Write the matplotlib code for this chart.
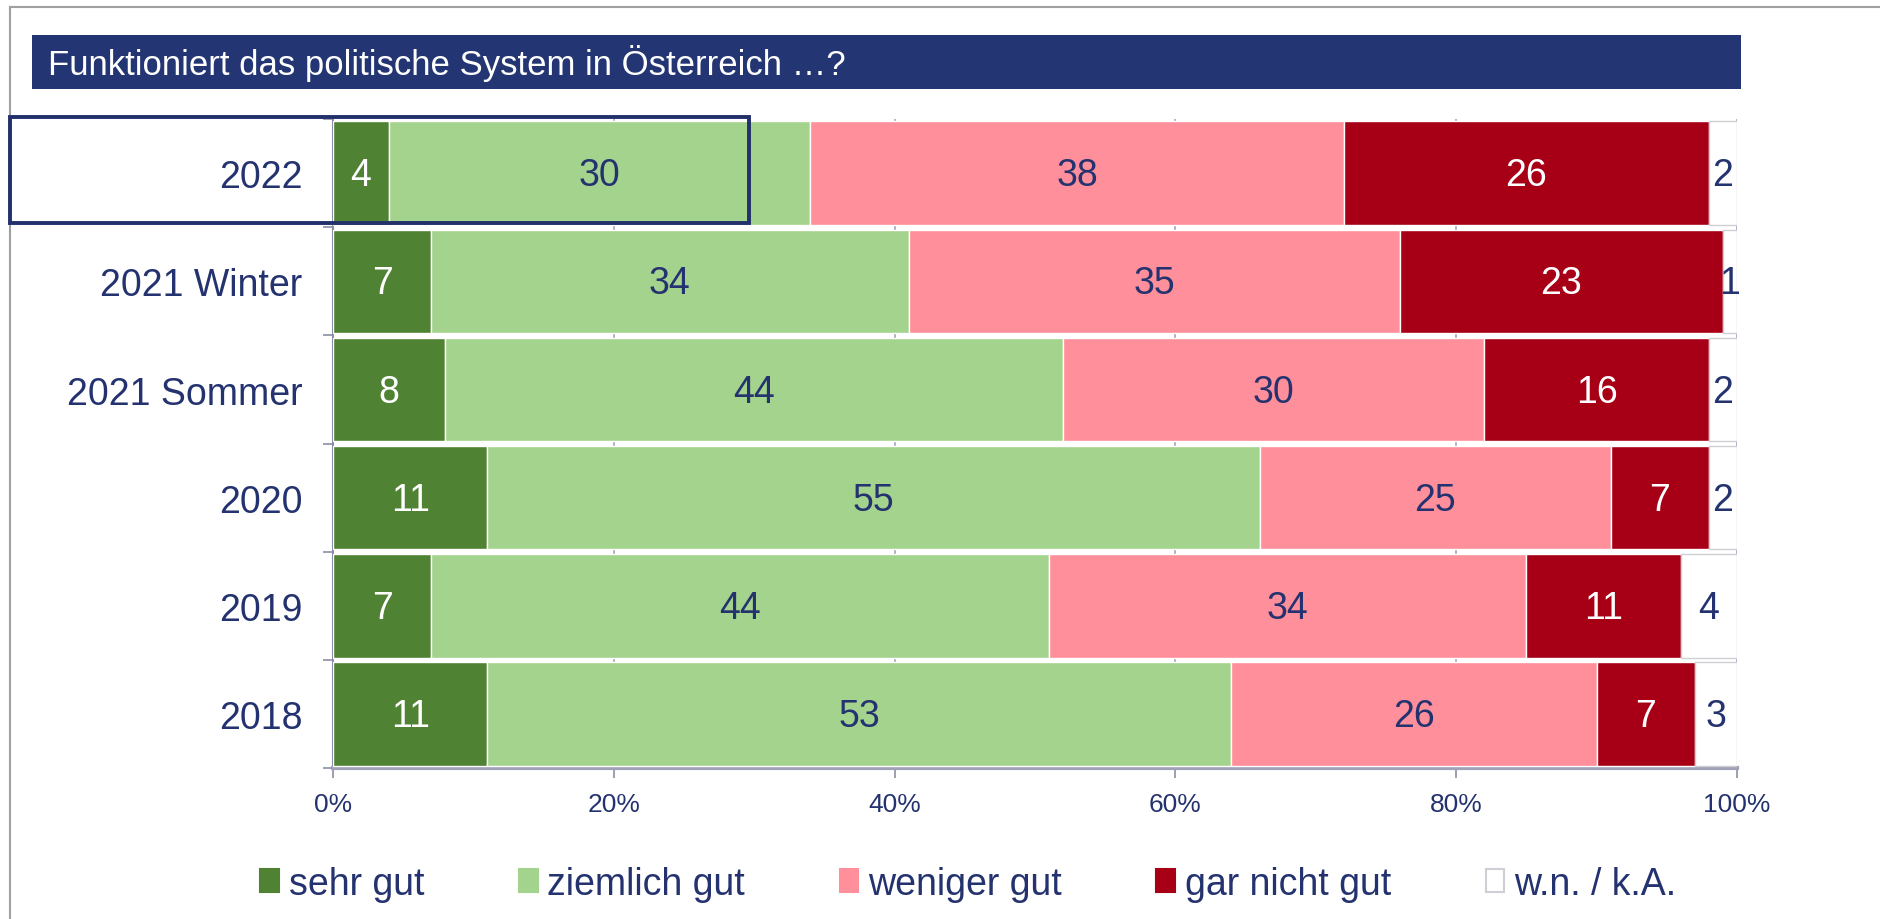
import numpy as np
import matplotlib
matplotlib.use("Agg")
import matplotlib.pyplot as plt
from matplotlib.patches import Rectangle, Patch
from matplotlib.lines import Line2D

plt.rcParams['font.family'] = ['Liberation Sans', 'DejaVu Sans']

# Daten
years = ["2022", "2021 Winter", "2021 Sommer", "2020", "2019", "2018"]
series_names = ["sehr gut", "ziemlich gut", "weniger gut", "gar nicht gut", "w.n. / k.A."]
sehr_gut = [4, 7, 8, 11, 7, 11]
ziemlich_gut = [30, 34, 44, 55, 44, 53]
weniger_gut = [38, 35, 30, 25, 34, 26]
gar_nicht_gut = [26, 23, 16, 7, 11, 7]
wn_ka = [2, 1, 2, 2, 4, 3]
x_ticks = [0, 20, 40, 60, 80, 100]
title = "Funktioniert das politische System in Österreich …?"

navy = "#24336f"
colors = ["#4f8233", "#a4d38d", "#ff8f9a", "#a70016", "#ffffff"]
edge = ["white", "white", "white", "white", "#cfcfd6"]
label_colors = ["white", navy, navy, "white", navy]

fig = plt.figure(figsize=(18.8, 9.2), dpi=100)
ax = fig.add_axes([0.1771, 0.164, 0.7468, 0.7055])

data = [sehr_gut, ziemlich_gut, weniger_gut, gar_nicht_gut, wn_ka]
y = np.arange(len(years))
left = np.zeros(len(years))
for vals, col, ec, lc in zip(data, colors, edge, label_colors):
    vals = np.array(vals, dtype=float)
    ax.barh(y, vals, left=left, height=0.955, color=col, edgecolor=ec,
            linewidth=1.0, zorder=3)
    for yi, v, l in zip(y, vals, left):
        ax.text(l + v / 2, yi + 0.02, f"{int(v)}", ha="center", va="center",
                fontsize=27, color=lc, zorder=4)
    left += vals

ax.set_xlim(0, 100)
ax.set_ylim(len(years) - 0.5, -0.5)

# Gitter
ax.set_xticks(x_ticks)
ax.set_xticklabels([f"{t}%" for t in x_ticks])
ax.grid(axis="x", color="#a3a3bd", linewidth=1.2, zorder=0)
ax.set_axisbelow(True)
ax.tick_params(axis="x", length=7, width=1.2, color="#8c8ca8",
               labelcolor=navy, labelsize=19, pad=10)

ax.set_yticks(y)
ax.set_yticklabels(years)
ax.set_yticks(np.arange(len(years) + 1) - 0.5, minor=True)
ax.tick_params(axis="y", which="major", length=0, labelcolor=navy,
               labelsize=27, pad=22)
ax.tick_params(axis="y", which="minor", length=7, width=1.2, color="#8c8ca8")

for s in ["top", "right"]:
    ax.spines[s].set_visible(False)
ax.spines["left"].set_color("#8c8ca8")
ax.spines["left"].set_linewidth(1.5)
ax.spines["bottom"].set_color("#a0a0b8")
ax.spines["bottom"].set_linewidth(3)

# Titelband
fig.patches.append(Rectangle((32 / 1880, 1 - 90 / 920), (1741 - 32) / 1880, 54 / 920,
                             transform=fig.transFigure, facecolor="#233572",
                             edgecolor="none", zorder=1))
fig.text(48 / 1880, 1 - 63 / 920, title, color="white", fontsize=25,
         ha="left", va="center")

# Rahmen der Folie
fig.lines.append(Line2D([10 / 1880, 1], [1 - 8 / 920, 1 - 8 / 920],
                        transform=fig.transFigure, color="#a0a0a0", linewidth=1.5))
fig.lines.append(Line2D([10 / 1880, 10 / 1880], [0, 1 - 8 / 920],
                        transform=fig.transFigure, color="#a0a0a0", linewidth=1.5))

# Markierung 2022
fig.patches.append(Rectangle((10 / 1880, 1 - 224 / 920), (749 - 10) / 1880, 106 / 920,
                             transform=fig.transFigure, facecolor="none",
                             edgecolor="#22306b", linewidth=2.8, zorder=10))

# Legende
handles = [Patch(facecolor=c, edgecolor=("#cfcfd6" if c == "#ffffff" else c), linewidth=1.5)
           for c in colors]
leg = fig.legend(handles, series_names, loc="center", bbox_to_anchor=(0.515, 1 - 885 / 920),
                 ncol=5, frameon=False, fontsize=27, handlelength=0.5, handleheight=0.55,
                 handletextpad=0.25, columnspacing=2.53)
for t in leg.get_texts():
    t.set_color(navy)

fig.savefig("out.png", dpi=100)
